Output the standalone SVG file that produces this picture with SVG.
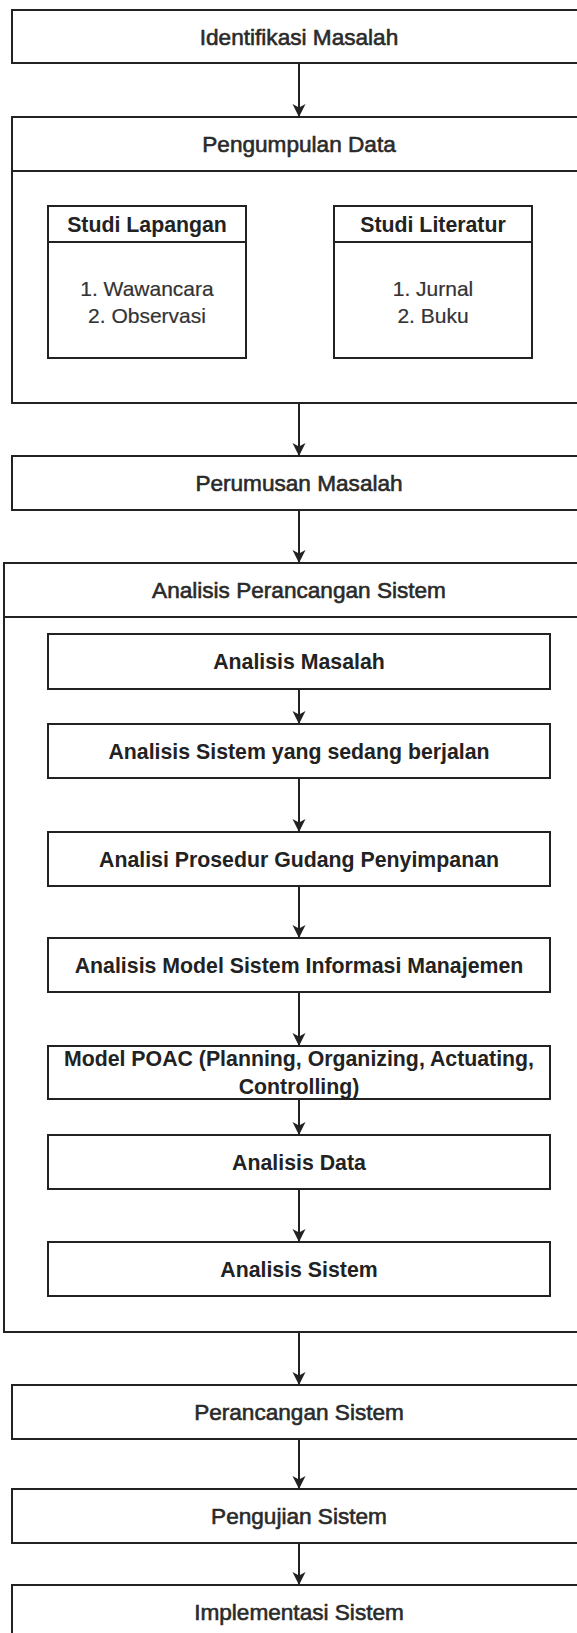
<svg xmlns="http://www.w3.org/2000/svg" width="577" height="1633" viewBox="0 0 577 1633">
<style>
.box{fill:#fff;stroke:#222;stroke-width:2}
.sep{stroke:#222;stroke-width:2}
.t{font-family:"Liberation Sans",Arial,Helvetica,sans-serif;font-size:21.3px;font-weight:bold;fill:#222;text-anchor:middle}
.o{font-weight:normal;font-size:22.6px;fill:#2a2a2a;stroke:#2a2a2a;stroke-width:0.6px}
.r{font-weight:normal;font-size:21px;fill:#333;stroke:#333;stroke-width:0.2px}
.edge{stroke:#222;stroke-width:2;fill:none;marker-end:url(#arr)}
</style>
<defs>
<marker id="arr" markerUnits="userSpaceOnUse" markerWidth="14" markerHeight="14" refX="13" refY="6.5" orient="auto">
<path d="M0,0 L13,6.5 L0,13 L3.5,6.5 Z" fill="#222"/>
</marker>
</defs>
<rect width="577" height="1633" fill="#fff"/>

<g id="identifikasi">
<rect class="box" x="12" y="10" width="574" height="53"/>
<text class="t o" x="299" y="44.5">Identifikasi Masalah</text>
</g>

<g id="pengumpulan">
<rect class="box" x="12" y="117" width="574" height="286"/>
<line class="sep" x1="12" y1="171" x2="586" y2="171"/>
<text class="t o" x="299" y="152">Pengumpulan Data</text>
</g>

<g id="studi-lapangan">
<rect class="box" x="48" y="206" width="198" height="152"/>
<line class="sep" x1="48" y1="242" x2="246" y2="242"/>
<text class="t" x="147" y="231.5">Studi Lapangan</text>
<text class="t r" x="147" y="296">1. Wawancara</text>
<text class="t r" x="147" y="322.7">2. Observasi</text>
</g>

<g id="studi-literatur">
<rect class="box" x="334" y="206" width="198" height="152"/>
<line class="sep" x1="334" y1="242" x2="532" y2="242"/>
<text class="t" x="433" y="231.5">Studi Literatur</text>
<text class="t r" x="433" y="296">1. Jurnal</text>
<text class="t r" x="433" y="322.7">2. Buku</text>
</g>

<g id="perumusan">
<rect class="box" x="12" y="456" width="574" height="54"/>
<text class="t o" x="299" y="491">Perumusan Masalah</text>
</g>

<g id="analisis-perancangan">
<rect class="box" x="4" y="563" width="590" height="769"/>
<line class="sep" x1="4" y1="617" x2="594" y2="617"/>
<text class="t o" x="299" y="598">Analisis Perancangan Sistem</text>
</g>

<g id="analisis-masalah">
<rect class="box" x="48" y="634" width="502" height="55"/>
<text class="t" x="299" y="669">Analisis Masalah</text>
</g>

<g id="analisis-sistem-berjalan">
<rect class="box" x="48" y="724" width="502" height="54"/>
<text class="t" x="299" y="758.5">Analisis Sistem yang sedang berjalan</text>
</g>

<g id="analisi-prosedur">
<rect class="box" x="48" y="832" width="502" height="54"/>
<text class="t" x="299" y="866.5">Analisi Prosedur Gudang Penyimpanan</text>
</g>

<g id="analisis-model">
<rect class="box" x="48" y="938" width="502" height="54"/>
<text class="t" x="299" y="972.5">Analisis Model Sistem Informasi Manajemen</text>
</g>

<g id="model-poac">
<rect class="box" x="48" y="1046" width="502" height="53"/>
<text class="t" x="299" y="1066">Model POAC (Planning, Organizing, Actuating,</text>
<text class="t" x="299" y="1093.5">Controlling)</text>
</g>

<g id="analisis-data">
<rect class="box" x="48" y="1135" width="502" height="54"/>
<text class="t" x="299" y="1169.5">Analisis Data</text>
</g>

<g id="analisis-sistem">
<rect class="box" x="48" y="1242" width="502" height="54"/>
<text class="t" x="299" y="1276.5">Analisis Sistem</text>
</g>

<g id="perancangan">
<rect class="box" x="12" y="1385" width="574" height="54"/>
<text class="t o" x="299" y="1420">Perancangan Sistem</text>
</g>

<g id="pengujian">
<rect class="box" x="12" y="1489" width="574" height="54"/>
<text class="t o" x="299" y="1524">Pengujian Sistem</text>
</g>

<g id="implementasi">
<rect class="box" x="12" y="1585" width="574" height="60"/>
<text class="t o" x="299" y="1620">Implementasi Sistem</text>
</g>

<g id="connectors">
<line class="edge" x1="299" y1="63" x2="299" y2="117"/>
<line class="edge" x1="299" y1="403" x2="299" y2="456"/>
<line class="edge" x1="299" y1="510" x2="299" y2="563"/>
<line class="edge" x1="299" y1="689" x2="299" y2="724"/>
<line class="edge" x1="299" y1="778" x2="299" y2="832"/>
<line class="edge" x1="299" y1="886" x2="299" y2="938"/>
<line class="edge" x1="299" y1="992" x2="299" y2="1046"/>
<line class="edge" x1="299" y1="1099" x2="299" y2="1135"/>
<line class="edge" x1="299" y1="1189" x2="299" y2="1242"/>
<line class="edge" x1="299" y1="1332" x2="299" y2="1385"/>
<line class="edge" x1="299" y1="1439" x2="299" y2="1489"/>
<line class="edge" x1="299" y1="1543" x2="299" y2="1585"/>
</g>
</svg>
